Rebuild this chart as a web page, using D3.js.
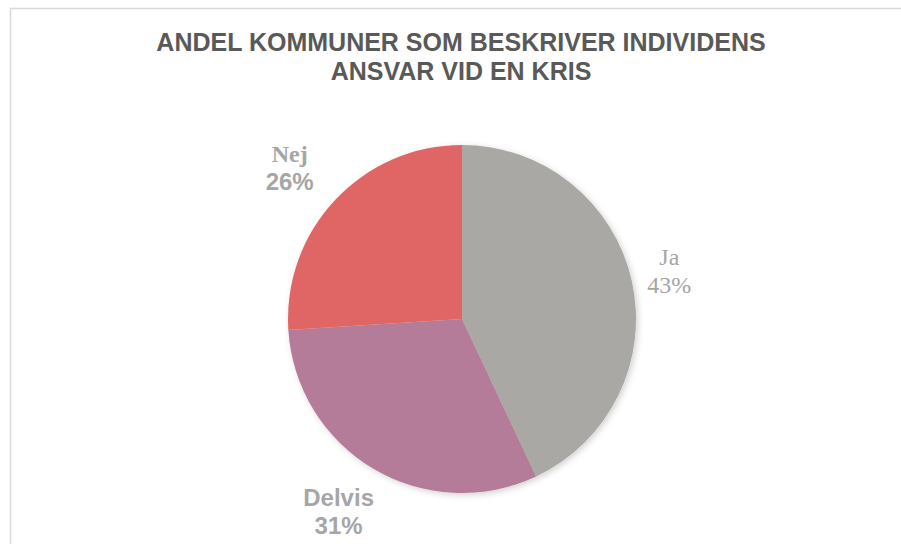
<html>
<head>
<script src="https://cdnjs.cloudflare.com/ajax/libs/d3/7.8.5/d3.min.js"></script>
<style>
    body { margin: 0; background: #fff; overflow: hidden; }
    svg { display: block; }
    .title { font-family: "Liberation Sans", Arial, sans-serif; font-weight: bold; font-size: 25px; fill: #595959; }
    .lbl { fill: #a6a6a6; font-size: 24px; }
    .sans { font-family: "Liberation Sans", Arial, sans-serif; font-weight: bold; }
    .serif { font-family: "Liberation Serif", "DejaVu Serif", serif; }
    .serifb { font-family: "Liberation Serif", "DejaVu Serif", serif; font-weight: bold; }
</style>
</head>
<body>
<script>
var categories = ["Ja", "Delvis", "Nej"];
var values = [43, 31, 26];
var colors = ["#a9a8a4", "#b47b99", "#e06666"];
var titleLines = ["ANDEL KOMMUNER SOM BESKRIVER INDIVIDENS", "ANSVAR VID EN KRIS"];

// label fonts, the way the original mixes them
var nameFont = { "Ja": "serif", "Delvis": "sans", "Nej": "serifb" };
var pctFont = { "Ja": "serif", "Delvis": "sans", "Nej": "sans" };

var width = 901, height = 544;
var cx = 462, cy = 319, radius = 174;

var svg = d3.select("body").append("svg")
    .attr("width", width)
    .attr("height", height);

// chart frame, only top and left edges are inside the picture
svg.append("path")
    .attr("d", "M10.5," + height + "V8.5H" + width)
    .attr("fill", "none")
    .attr("stroke", "#d9d9d9")
    .attr("stroke-width", 1.5);

svg.selectAll("text.title")
    .data(titleLines)
    .enter().append("text")
    .attr("class", "title")
    .attr("x", 461)
    .attr("y", (d, i) => 51 + i * 29)
    .attr("text-anchor", "middle")
    .text(d => d);

var defs = svg.append("defs");
var shadow = defs.append("filter").attr("id", "shadow")
    .attr("x", "-20%").attr("y", "-20%").attr("width", "140%").attr("height", "140%");
shadow.append("feDropShadow")
    .attr("dx", 2).attr("dy", 2).attr("stdDeviation", 3)
    .attr("flood-color", "#000").attr("flood-opacity", 0.18);

var data = categories.map((c, i) => ({ name: c, value: values[i], color: colors[i] }));
var pie = d3.pie().sort(null).value(d => d.value);
var arcs = pie(data);
var total = d3.sum(values);

var arc = d3.arc().innerRadius(0).outerRadius(radius);
var labelArc = d3.arc().innerRadius(radius * 1.28).outerRadius(radius * 1.28);

var g = svg.append("g").attr("transform", "translate(" + cx + "," + cy + ")");

g.append("g").attr("filter", "url(#shadow)")
    .selectAll("path")
    .data(arcs)
    .enter().append("path")
    .attr("d", arc)
    .attr("fill", d => d.data.color);

// excel "best fit" labels sit a bit left of the plain centroid
var labels = g.selectAll("g.label")
    .data(arcs)
    .enter().append("g")
    .attr("class", "label")
    .attr("transform", d => {
        var p = labelArc.centroid(d);
        return "translate(" + (p[0] - 10) + "," + p[1] + ")";
    });

labels.append("text")
    .attr("class", d => "lbl " + nameFont[d.data.name])
    .attr("text-anchor", "middle")
    .attr("y", -5)
    .text(d => d.data.name);

labels.append("text")
    .attr("class", d => "lbl " + pctFont[d.data.name])
    .attr("text-anchor", "middle")
    .attr("y", 23)
    .text(d => d3.format(".0%")(d.data.value / total));
</script>
</body>
</html>
